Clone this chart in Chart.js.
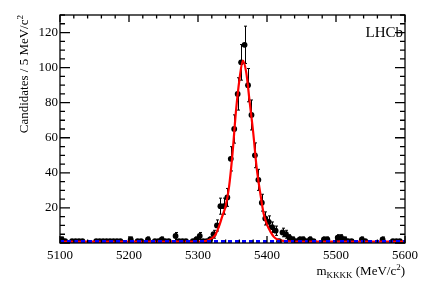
<!DOCTYPE html>
<html>
<head>
<meta charset="utf-8">
<script src="https://cdn.jsdelivr.net/npm/chart.js@4.4.1/dist/chart.umd.min.js"></script>
<style>
  html, body { margin: 0; padding: 0; background: #fff; }
</style>
</head>
<body>
<canvas id="massChart" width="427" height="290"></canvas>
<script>
// bin centres in MeV/c^2 (5 MeV bins, 5100 - 5600)
const binCentres = [
  5102.5, 5107.5, 5112.5, 5117.5, 5122.5, 5127.5, 5132.5, 5137.5, 5142.5, 5147.5,
  5152.5, 5157.5, 5162.5, 5167.5, 5172.5, 5177.5, 5182.5, 5187.5, 5192.5, 5197.5,
  5202.5, 5207.5, 5212.5, 5217.5, 5222.5, 5227.5, 5232.5, 5237.5, 5242.5, 5247.5,
  5252.5, 5257.5, 5262.5, 5267.5, 5272.5, 5277.5, 5282.5, 5287.5, 5292.5, 5297.5,
  5302.5, 5307.5, 5312.5, 5317.5, 5322.5, 5327.5, 5332.5, 5337.5, 5342.5, 5347.5,
  5352.5, 5357.5, 5362.5, 5367.5, 5372.5, 5377.5, 5382.5, 5387.5, 5392.5, 5397.5,
  5402.5, 5407.5, 5412.5, 5417.5, 5422.5, 5427.5, 5432.5, 5437.5, 5442.5, 5447.5,
  5452.5, 5457.5, 5462.5, 5467.5, 5472.5, 5477.5, 5482.5, 5487.5, 5492.5, 5497.5,
  5502.5, 5507.5, 5512.5, 5517.5, 5522.5, 5527.5, 5532.5, 5537.5, 5542.5, 5547.5,
  5552.5, 5557.5, 5562.5, 5567.5, 5572.5, 5577.5, 5582.5, 5587.5, 5592.5, 5597.5
];

// candidates per bin
const counts = [
  2, 1, 0, 1, 1, 1, 1, 0, 0, 0,
  1, 1, 1, 1, 1, 1, 1, 1, 0, 0,
  2, 0, 1, 1, 0, 2, 0, 1, 1, 2,
  1, 1, 0, 4, 1, 1, 1, 0, 1, 2,
  4, 1, 1, 2, 5, 10, 21, 21, 26, 48,
  65, 85, 103, 113, 90, 73, 50, 36, 23, 14,
  12, 9, 7, 1, 6, 5, 3, 2, 1, 2,
  2, 1, 2, 1, 0, 0, 2, 2, 0, 0,
  3, 3, 2, 1, 1, 0, 0, 2, 1, 0,
  0, 0, 0, 2, 0, 0, 1, 1, 1, 0
];

// total fit curve
const fitMass  = [5100, 5300, 5310, 5315, 5320, 5325, 5330, 5335, 5340, 5345, 5350, 5355,
                  5360, 5365, 5370, 5375, 5380, 5385, 5390, 5395, 5400, 5405, 5410, 5415,
                  5420, 5430, 5450, 5600];
const fitTotal = [0.8, 0.8, 1.1, 1.6, 2.6, 4.5, 9, 15, 21, 32, 51, 75,
                  93, 104, 97, 80, 63, 43, 29, 17, 10.5, 6.5, 3.5, 2.0,
                  1.4, 1.0, 0.8, 0.8];

// combinatorial background component
const bkgMass  = [5100, 5600];
const bkgLevel = [0.8, 0.8];

const xTicks = [5100, 5200, 5300, 5400, 5500, 5600];
const yTicks = [20, 40, 60, 80, 100, 120];

const FONT = '"Liberation Serif", "DejaVu Serif", serif';

const lhcbFrame = {
    id: 'lhcbFrame',
    beforeDatasetsDraw(chart) {
        const ctx = chart.ctx;
        const x = chart.scales.x, y = chart.scales.y, a = chart.chartArea;

        // error bars (empty bins are not drawn), under the curves
        ctx.save();
        ctx.beginPath();
        ctx.rect(a.left, a.top, a.right - a.left, a.bottom - a.top);
        ctx.clip();
        ctx.strokeStyle = '#000';
        ctx.lineWidth = 1;
        binCentres.forEach((m, i) => {
            const n = counts[i];
            if (n === 0) return;
            const err = Math.sqrt(n);
            const px = Math.round(x.getPixelForValue(m)) + 0.5;
            const yTop = y.getPixelForValue(n + err);
            const yBot = y.getPixelForValue(Math.max(n - err, 0));
            ctx.beginPath();
            ctx.moveTo(px, yTop); ctx.lineTo(px, yBot);
            ctx.moveTo(px - 1.5, yTop); ctx.lineTo(px + 1.5, yTop);
            if (n - err > 0.3) { ctx.moveTo(px - 1.5, yBot); ctx.lineTo(px + 1.5, yBot); }
            ctx.stroke();
        });
        ctx.restore();
    },
    afterDatasetsDraw(chart) {
        const ctx = chart.ctx;
        const x = chart.scales.x, y = chart.scales.y, a = chart.chartArea;

        // frame with inward ticks on all sides
        ctx.save();
        ctx.strokeStyle = '#000';
        ctx.lineWidth = 1.3;
        ctx.strokeRect(a.left, a.top, a.right - a.left, a.bottom - a.top);
        ctx.beginPath();
        for (let m = 5100; m <= 5600; m += 20) {
            const px = x.getPixelForValue(m);
            const len = (m % 100 === 0) ? 7 : 3.5;
            ctx.moveTo(px, a.bottom); ctx.lineTo(px, a.bottom - len);
            ctx.moveTo(px, a.top); ctx.lineTo(px, a.top + len);
        }
        for (let v = 0; v <= 130; v += 5) {
            const py = y.getPixelForValue(v);
            const len = (v % 20 === 0) ? 10 : 5;
            ctx.moveTo(a.left, py); ctx.lineTo(a.left + len, py);
            ctx.moveTo(a.right, py); ctx.lineTo(a.right - len, py);
        }
        ctx.stroke();

        // y title
        ctx.fillStyle = '#000';
        ctx.textBaseline = 'alphabetic';
        ctx.font = '13px ' + FONT;
        const yMain = 'Candidates / 5 MeV/c';
        const wMain = ctx.measureText(yMain).width;
        ctx.font = '9px ' + FONT;
        const wSup = ctx.measureText('2').width;
        ctx.save();
        ctx.translate(28, a.top + wMain + wSup);
        ctx.rotate(-Math.PI / 2);
        ctx.font = '13px ' + FONT;
        ctx.textAlign = 'left';
        ctx.fillText(yMain, 0, 0);
        ctx.font = '9px ' + FONT;
        ctx.fillText('2', wMain, -5);
        ctx.restore();

        // x title: m_KKKK (MeV/c^2)
        const parts = [
            { t: 'm', f: 13, dy: 0 },
            { t: 'KKKK', f: 9, dy: 3 },
            { t: ' (MeV/c', f: 13, dy: 0 },
            { t: '2', f: 9, dy: -5 },
            { t: ')', f: 13, dy: 0 }
        ];
        let total = 0;
        parts.forEach(p => { ctx.font = p.f + 'px ' + FONT; p.w = ctx.measureText(p.t).width; total += p.w; });
        let cx = a.right - total;
        ctx.textAlign = 'left';
        parts.forEach(p => {
            ctx.font = p.f + 'px ' + FONT;
            ctx.fillText(p.t, cx, 275 + p.dy);
            cx += p.w;
        });

        // LHCb label
        ctx.font = '15px ' + FONT;
        ctx.textAlign = 'right';
        ctx.fillText('LHCb', a.right - 2, a.top + 22);
        ctx.restore();
    }
};

const ctx = document.getElementById('massChart').getContext('2d');
new Chart(ctx, {
    type: 'scatter',
    data: {
        datasets: [
            {
                label: 'Background',
                type: 'line',
                data: bkgMass.map((m, i) => ({ x: m, y: bkgLevel[i] })),
                borderColor: '#0000ff',
                borderWidth: 3,
                borderDash: [4, 3],
                pointRadius: 0,
                fill: false,
                order: 1
            },
            {
                label: 'Total fit',
                type: 'line',
                data: fitMass.map((m, i) => ({ x: m, y: fitTotal[i] })),
                borderColor: '#ff0000',
                borderWidth: 2.2,
                pointRadius: 0,
                fill: false,
                cubicInterpolationMode: 'monotone',
                order: 2
            },
            {
                label: 'Data',
                data: binCentres.map((m, i) => ({ x: m, y: counts[i] > 0 ? counts[i] : null })),
                pointRadius: 2.9,
                pointBackgroundColor: '#000',
                pointBorderWidth: 0,
                showLine: false,
                order: 3
            }
        ]
    },
    options: {
        responsive: false,
        animation: false,
        devicePixelRatio: 1,
        layout: { padding: { left: 0, right: 22, top: 15, bottom: 0 } },
        plugins: {
            legend: { display: false },
            tooltip: { enabled: false }
        },
        scales: {
            x: {
                type: 'linear',
                min: 5100,
                max: 5600,
                grid: { display: false, drawTicks: false },
                border: { display: false },
                afterBuildTicks: s => { s.ticks = xTicks.map(v => ({ value: v })); },
                ticks: {
                    padding: 5,
                    color: '#000',
                    maxRotation: 0,
                    autoSkip: false,
                    font: { family: FONT, size: 13 },
                    callback: v => String(v)
                },
                afterFit: s => { s.height = 47; }
            },
            y: {
                min: 0,
                max: 130,
                grid: { display: false, drawTicks: false },
                border: { display: false },
                afterBuildTicks: s => { s.ticks = yTicks.map(v => ({ value: v })); },
                ticks: {
                    padding: 2,
                    color: '#000',
                    font: { family: FONT, size: 13 }
                },
                afterFit: s => { s.width = 60; }
            }
        }
    },
    plugins: [lhcbFrame]
});
</script>
</body>
</html>
